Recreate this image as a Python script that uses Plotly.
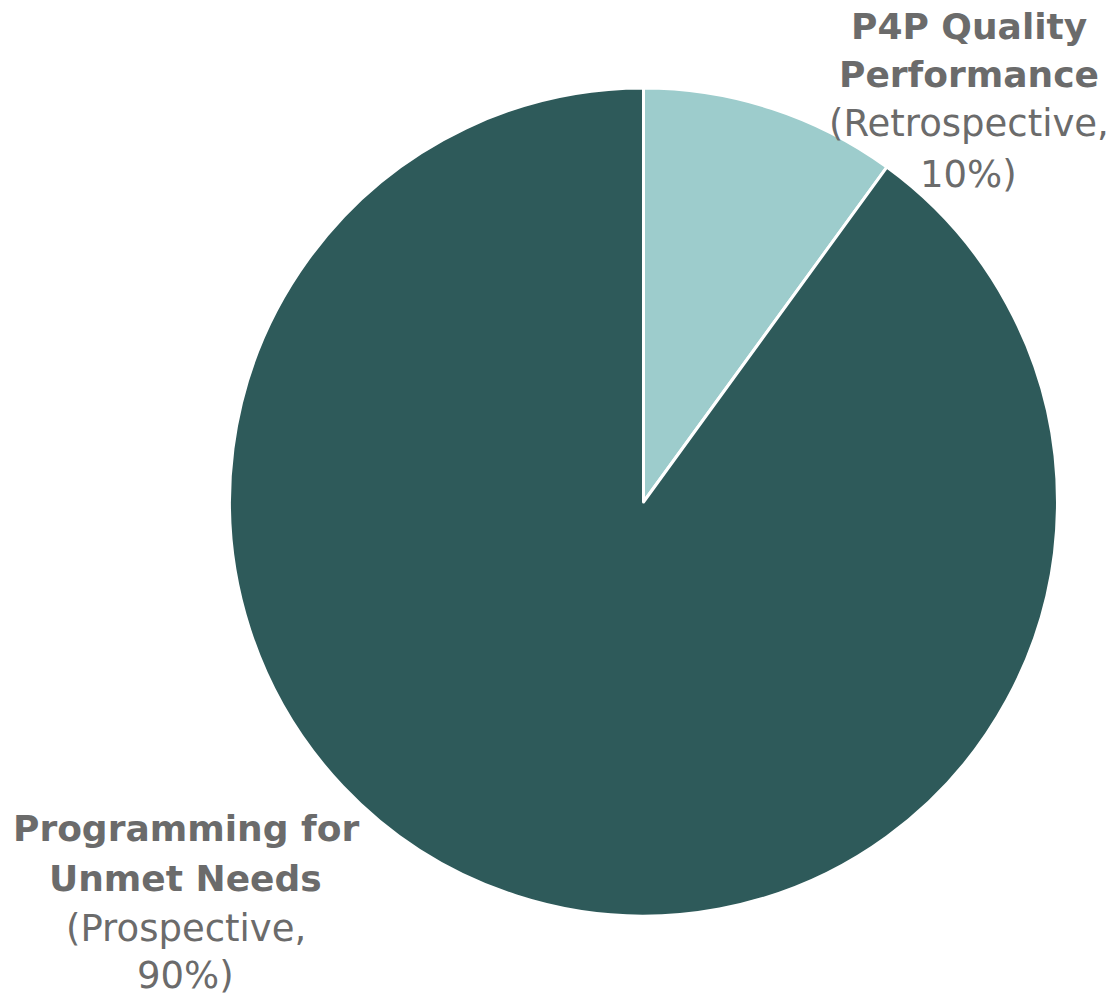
import plotly.graph_objects as go

categories = ["P4P Quality Performance", "Programming for Unmet Needs"]
values = [10, 90]
colors = ["#9DCCCC", "#2E5A5A"]
# label lines: (text, bold)
top_lines = [("P4P Quality", True), ("Performance", True), ("(Retrospective,", False), ("10%)", False)]
bottom_lines = [("Programming for", True), ("Unmet Needs", True), ("(Prospective,", False), ("90%)", False)]

W, H, OFF = 1115, 1000, 8  # page body margin offset

fig = go.Figure(go.Pie(
    labels=categories,
    values=values,
    sort=False,
    direction="clockwise",
    rotation=0,
    textinfo="none",
    hoverinfo="label+percent",
    marker=dict(colors=colors, line=dict(color="white", width=3)),
    domain=dict(x=[221.5 / W, 1049.5 / W], y=[1 - 908 / H, 1 - 80 / H]),
    showlegend=False,
))

def add_lines(lines, cx, ys):
    for (txt, bold), py in zip(lines, ys):
        fig.add_annotation(
            text="<b>%s</b>" % txt if bold else txt,
            x=(cx - OFF) / W, y=1 - (py - OFF) / H, xref="paper", yref="paper",
            xanchor="center", yanchor="middle", showarrow=False, align="center",
            font=dict(family="DejaVu Sans", size=36 if bold else 37, color="#6B6B6B"),
        )

add_lines(top_lines, 968.5, [26, 74, 124, 174])
add_lines(bottom_lines, 185.5, [828, 878, 928, 975])

fig.update_layout(
    width=W, height=H,
    margin=dict(l=0, r=0, t=0, b=0),
    paper_bgcolor="white", plot_bgcolor="white",
)
fig.write_html("out.html")
